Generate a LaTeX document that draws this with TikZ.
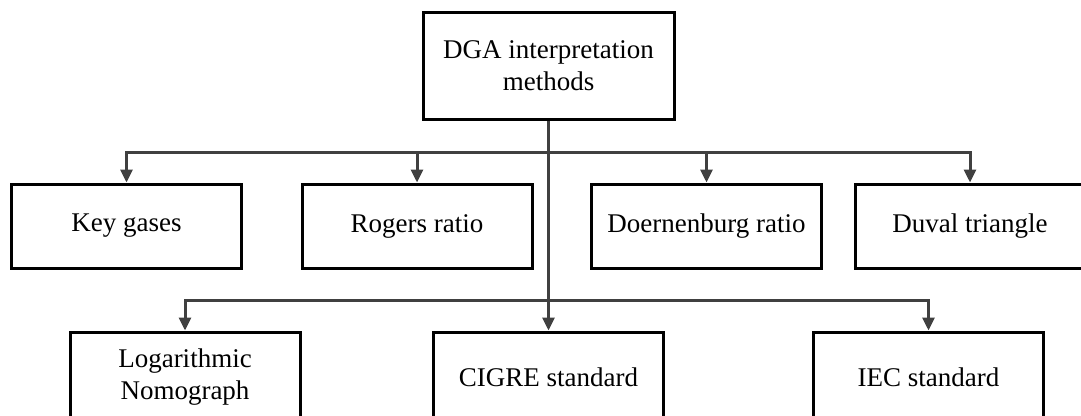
\documentclass[tikz,border=0pt]{standalone}
\usepackage{fontspec}
\setmainfont{Liberation Serif}
\usetikzlibrary{arrows.meta, shadows}
\definecolor{linegray}{RGB}{64,64,64}

\begin{document}
\begin{tikzpicture}[x=1pt, y=-1pt,
  method/.style={draw=black, line width=3pt, fill=white, minimum width=230pt,
    minimum height=84pt, align=center, inner sep=0pt,
    font=\fontsize{27}{32}\selectfont,
    drop shadow={shadow xshift=1.5pt, shadow yshift=-1.5pt, fill=black!25}},
  link/.style={draw=linegray, line width=3pt, -{Triangle[length=13pt,width=12pt]}}
]
\useasboundingbox (0,0) rectangle (1081,415);

% root
\node[method, minimum width=251pt, minimum height=107pt] (dga) at (548.5,65.5) {DGA interpretation\\methods};

% middle row
\node[method] (key) at (126.5,226) {Key gases};
\node[method] (rogers) at (417,226) {Rogers ratio};
\node[method] (doern) at (706.5,226) {Doernenburg ratio};
\node[method] (duval) at (970,226) {Duval triangle};

% bottom row
\node[method, minimum height=90pt] (logno) at (185,377) {Logarithmic\\Nomograph};
\node[method, minimum height=90pt] (cigre) at (548.5,377) {CIGRE standard};
\node[method, minimum height=90pt] (iec) at (928.5,377) {IEC standard};

% junctions on the trunk
\path (dga.south) ++(0,32) coordinate (upper);
\path (dga.south) ++(0,180) coordinate (lower);

\draw[link] (dga.south) -- (cigre.north);
\foreach \n in {key,rogers,doern,duval}
  \draw[link] (upper) -| (\n.north);
\foreach \n in {logno,iec}
  \draw[link] (lower) -| (\n.north);

\end{tikzpicture}
\end{document}
